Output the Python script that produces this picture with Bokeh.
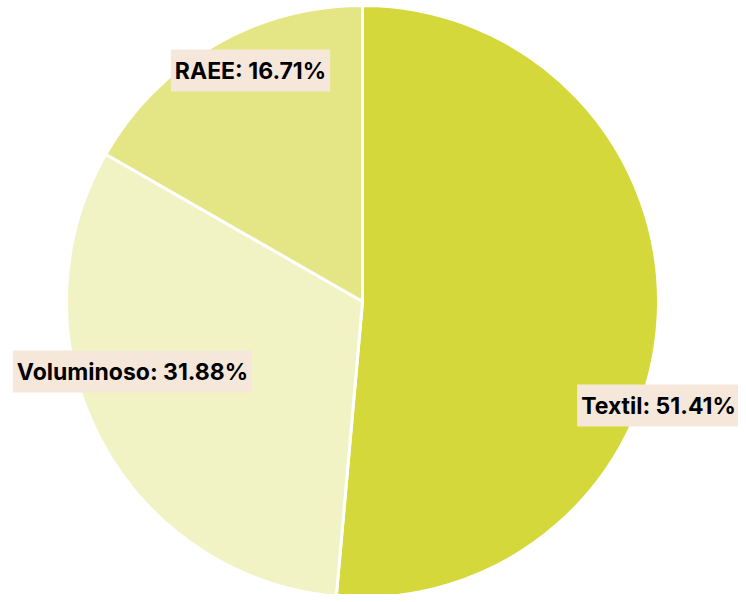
import numpy as np
from bokeh.plotting import figure
from bokeh.models import Range1d, ColumnDataSource, Label
from bokeh.embed import file_html
from bokeh.resources import INLINE

categories = ["Textil", "Voluminoso", "RAEE"]
values = [51.41, 31.88, 16.71]
colors = ["#d4d83a", "#f1f3c5", "#e4e686"]
label_pos = [(658, 405), (132, 371), (250, 70)]  # image-pixel centres of labels

W, H = 738, 594
p = figure(width=W, height=H, output_backend="svg", toolbar_location=None,
           x_range=Range1d(0, W), y_range=Range1d(0, H), min_border=0)
p.axis.visible = False
p.grid.visible = False
p.outline_line_color = None
p.background_fill_color = "white"
p.border_fill_color = "white"

def px(x, y):
    return x, H - y

vals = np.array(values)
frac = vals / vals.sum()
cum = np.concatenate([[0], np.cumsum(frac)])
start = np.pi / 2 - cum[:-1] * 2 * np.pi
end = np.pi / 2 - cum[1:] * 2 * np.pi

cx, cy = px(362, 301)
src = ColumnDataSource(dict(start=start, end=end, color=colors, cat=categories))
p.wedge(x=cx, y=cy, radius=296, start_angle="start", end_angle="end",
        direction="clock", fill_color="color", line_color="white", line_width=3,
        source=src)

for cat, v, (lx, ly) in zip(categories, values, label_pos):
    x, y = px(lx, ly)
    p.add_layout(Label(x=x, y=y, text=f"{cat}: {v:.2f}%", text_align="center",
                       text_baseline="middle", text_font="Inter",
                       text_font_style="bold", text_font_size="23px",
                       text_color="black", background_fill_color="#f5e8da",
                       padding=(4, 7)))

open("out.html", "w").write(file_html(p, INLINE))
